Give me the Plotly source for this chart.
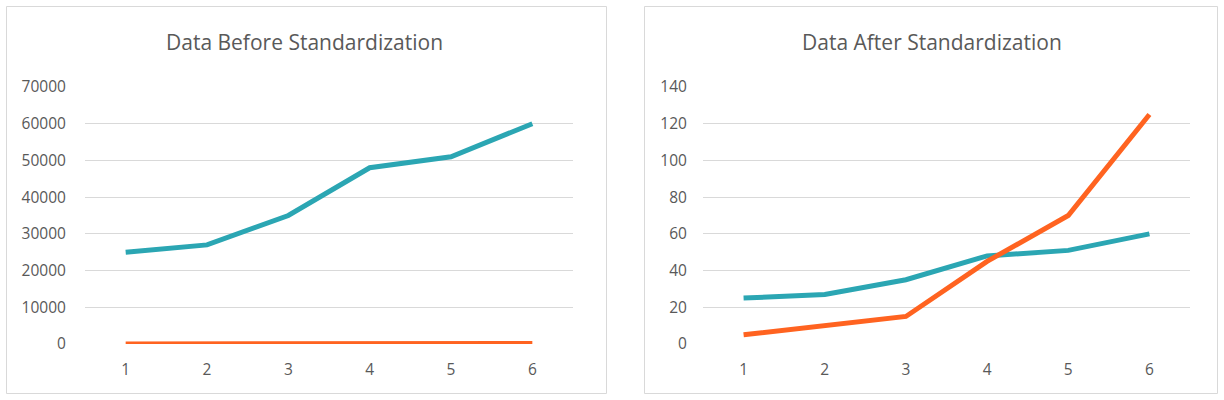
import plotly.graph_objects as go

W, H = 1224, 400

# data
periods = [1, 2, 3, 4, 5, 6]
teal_before = [25000, 27000, 35000, 48000, 51000, 60000]
orange_before = [5, 10, 15, 45, 70, 125]
teal_after = [25, 27, 35, 48, 51, 60]
orange_after = [5, 10, 15, 45, 70, 125]

titles = ["Data Before Standardization", "Data After Standardization"]
TEAL = "#2BA6B3"
ORANGE = "#FF6320"
GREY = "#595959"
GRID = "#D9D9D9"


def px(x):
    return x / W


def py(y):
    return 1 - y / H


fig = go.Figure()

fig.add_trace(go.Scatter(x=periods, y=teal_before, mode="lines",
                         line=dict(color=TEAL, width=5), xaxis="x", yaxis="y"))
fig.add_trace(go.Scatter(x=periods, y=orange_before, mode="lines",
                         line=dict(color=ORANGE, width=5), xaxis="x", yaxis="y"))
fig.add_trace(go.Scatter(x=periods, y=teal_after, mode="lines",
                         line=dict(color=TEAL, width=5), xaxis="x2", yaxis="y2"))
fig.add_trace(go.Scatter(x=periods, y=orange_after, mode="lines",
                         line=dict(color=ORANGE, width=5), xaxis="x2", yaxis="y2"))

font = dict(family="Open Sans", size=15.5, color=GREY)
xcommon = dict(range=[0.5, 6.5], tickvals=periods, showgrid=False, zeroline=False,
               showline=False, ticks="outside", ticklen=11, tickcolor="rgba(0,0,0,0)",
               tickfont=font, fixedrange=True, automargin=False)
ycommon = dict(showgrid=True, gridcolor=GRID, gridwidth=1, zeroline=False,
               showline=False, ticks="outside", tickcolor="rgba(0,0,0,0)",
               tickformat="d", tickfont=font, fixedrange=True, automargin=False)

fig.update_layout(
    width=W, height=H, autosize=False,
    margin=dict(l=0, r=0, t=0, b=0, pad=0),
    paper_bgcolor="white", plot_bgcolor="white",
    showlegend=False,
    xaxis=dict(domain=[px(85), px(573)], anchor="y", **xcommon),
    yaxis=dict(domain=[py(344), py(87)], anchor="x", range=[0, 70000],
               dtick=10000, ticklen=15, **ycommon),
    xaxis2=dict(domain=[px(703), px(1190)], anchor="y2", **xcommon),
    yaxis2=dict(domain=[py(344), py(87)], anchor="x2", range=[0, 140],
                dtick=20, ticklen=12, **ycommon),
)

# chart boxes
for x0, x1 in [(6.5, 606.5), (644.5, 1217.5)]:
    fig.add_shape(type="rect", xref="paper", yref="paper",
                  x0=px(x0), x1=px(x1), y0=py(393.5), y1=py(6.5),
                  line=dict(color=GRID, width=1), layer="below")

for title, xc in zip(titles, [304, 932]):
    fig.add_annotation(text=title, xref="paper", yref="paper", x=px(xc), y=py(42),
                       showarrow=False, xanchor="center", yanchor="middle",
                       font=dict(family="Open Sans", size=21, color=GREY))

# page body has a default 8px margin; drop it so the figure sits at 0,0
fig.write_html("out.html", config={"responsive": False, "displayModeBar": False},
               post_script="document.body.style.margin='0';")
